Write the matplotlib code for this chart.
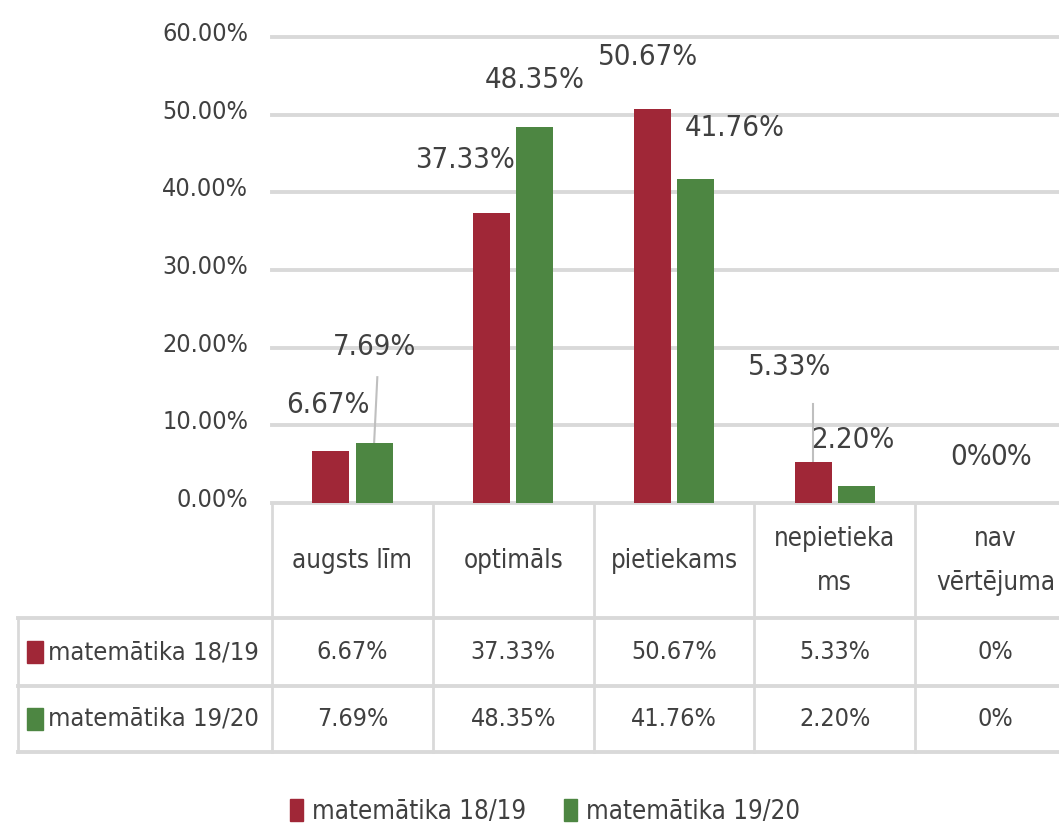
import matplotlib.pyplot as plt
import matplotlib.transforms as mtransforms
from matplotlib.patches import Patch
import numpy as np

plt.rcParams['font.family'] = ['DejaVu Sans']
plt.rcParams['font.stretch'] = 'condensed'

categories = ['augsts līm', 'optimāls', 'pietiekams', 'nepietieka\nms', 'nav\nvērtējuma']
series_names = ['matemātika 18/19', 'matemātika 19/20']
vals_1819 = [6.67, 37.33, 50.67, 5.33, 0.0]
vals_1920 = [7.69, 48.35, 41.76, 2.20, 0.0]
labels_1819 = ['6.67%', '37.33%', '50.67%', '5.33%', '0%']
labels_1920 = ['7.69%', '48.35%', '41.76%', '2.20%', '0%']
yticks = [0, 10, 20, 30, 40, 50, 60]

red = '#A02737'
green = '#4D8642'
txt = '#404040'
grid = '#D9D9D9'

fig = plt.figure(figsize=(10.59, 8.32), dpi=100)
W, H = 1059, 832
ax = fig.add_axes([272 / W, 1 - 503 / H, 804 / W, 466 / H])

x = np.arange(len(categories))
bw = 0.23
off = 0.135
ax.bar(x - off, vals_1819, bw, color=red, zorder=3)
ax.bar(x + off, vals_1920, bw, color=green, zorder=3)

ax.set_xlim(-0.5, 4.5)
ax.set_ylim(0, 60)
ax.set_yticks(yticks)
ax.set_yticklabels([f'{v:.2f}%' for v in yticks], fontsize=18, color=txt)
ax.tick_params(axis='y', length=0, pad=17)
shift = mtransforms.ScaledTranslation(0, 4 / 72, fig.dpi_scale_trans)
for lab in ax.get_yticklabels():
    lab.set_transform(lab.get_transform() + shift)
ax.set_xticks([])
for s in ax.spines.values():
    s.set_visible(False)
for v in yticks:
    ax.axhline(v, color=grid, lw=2.8, zorder=1, clip_on=False)

# data labels (offsets from bar centre in data units, y in %)
lab_pos_1819 = [(-0.02, 12.6), (-0.165, 44.1), (-0.025, 57.4), (-0.145, 17.5), (-0.015, 5.9)]
lab_pos_1920 = [(0.005, 20.1), (0.0, 54.4), (0.245, 48.3), (-0.025, 8.1), (-0.04, 5.9)]
for i in range(len(categories)):
    dx, yy = lab_pos_1819[i]
    ax.text(x[i] - off + dx, yy, labels_1819[i], ha='center', va='center',
            fontsize=21, color=txt, zorder=4)
    dx, yy = lab_pos_1920[i]
    ax.text(x[i] + off + dx, yy, labels_1920[i], ha='center', va='center',
            fontsize=21, color=txt, zorder=4)

# leader lines
ax.plot([x[0] + off, x[0] + off + 0.02], [vals_1920[0], 16.2], color='#BFBFBF', lw=1.5, zorder=2)
ax.plot([x[3] - off, x[3] - off], [vals_1819[3], 12.8], color='#BFBFBF', lw=1.5, zorder=2)

# data table below the axes
tr = mtransforms.blended_transform_factory(ax.transData, ax.transAxes)
px = 1 / 466
y_head = -(618 - 503) * px
y_r1 = -(686 - 503) * px
y_r2 = -(752 - 503) * px
x_left = -0.5 - (272 - 18) / 160.8
x_right = 4.5

for yy in [y_head, y_r1, y_r2]:
    ax.plot([x_left, x_right], [yy, yy], color=grid, lw=2.8, transform=tr, clip_on=False)
for b in np.arange(-0.5, 4.5, 1.0):
    ax.plot([b, b], [0, y_r2], color=grid, lw=2.0, transform=tr, clip_on=False)
ax.plot([x_left, x_left], [y_head, y_r2], color=grid, lw=2.0, transform=tr, clip_on=False)

for i, c in enumerate(categories):
    ax.text(x[i], y_head / 2, c, ha='center', va='center', fontsize=18.5,
            color=txt, transform=tr, linespacing=1.9)
    ax.text(x[i], (y_head + y_r1) / 2, labels_1819[i], ha='center', va='center',
            fontsize=18, color=txt, transform=tr)
    ax.text(x[i], (y_r1 + y_r2) / 2, labels_1920[i], ha='center', va='center',
            fontsize=18, color=txt, transform=tr)

for name, col, (ya, yb) in [(series_names[0], red, (y_head, y_r1)),
                            (series_names[1], green, (y_r1, y_r2))]:
    ym = (ya + yb) / 2
    ax.add_patch(plt.Rectangle((x_left + 0.055, ym - 11 * px), 0.1, 22 * px,
                               color=col, transform=tr, clip_on=False))
    ax.text(x_left + 0.185, ym, name, ha='left', va='center', fontsize=18.3,
            color=txt, transform=tr)

handles = [Patch(color=red, label=series_names[0]),
           Patch(color=green, label=series_names[1])]
fig.legend(handles=handles, loc='center', bbox_to_anchor=(545 / W, 1 - 812 / H),
           ncol=2, frameon=False, fontsize=18.5, labelcolor=txt,
           handlelength=0.5, handleheight=0.9, handletextpad=0.35, columnspacing=1.5)

fig.savefig('out.png', dpi=100, facecolor='white')
